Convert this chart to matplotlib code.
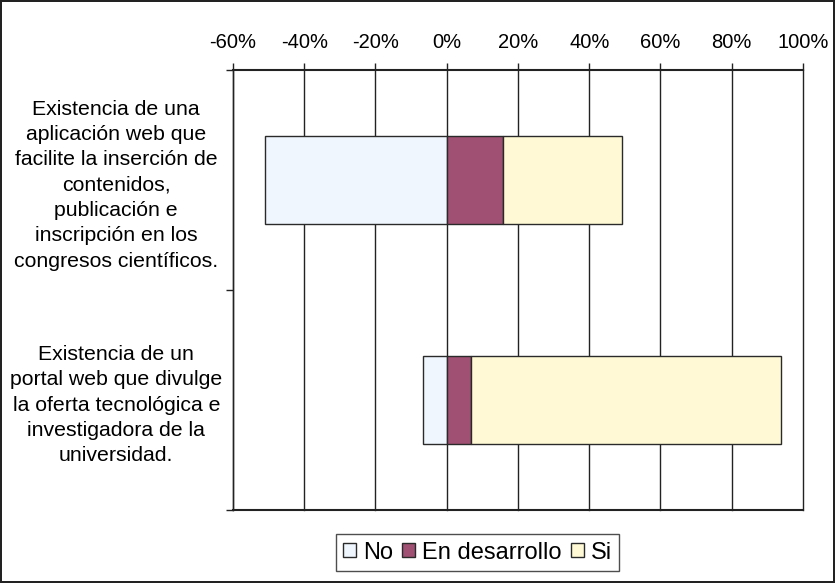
import numpy as np
import matplotlib
matplotlib.use('Agg')
from matplotlib import pyplot as plt

plt.rcParams['font.family'] = ['Liberation Sans', 'DejaVu Sans']
plt.rcParams['axes.unicode_minus'] = False

categories = [
  'Existencia de una\naplicación web que\nfacilite la inserción de\ncontenidos,\npublicación e\ninscripción en los\ncongresos científicos.',
  'Existencia de un\nportal web que divulge\nla oferta tecnológica e\ninvestigadora de la\nuniversidad.',
]
no_vals = [51.1, 6.6]
desarrollo_vals = [15.9, 6.9]
si_vals = [33.3, 87.0]
series_names = ['No', 'En desarrollo', 'Si']
x_ticks = [-60, -40, -20, 0, 20, 40, 60, 80, 100]
x_ticklabels = ['-60%', '-40%', '-20%', '0%', '20%', '40%', '60%', '80%', '100%']

colors = ['#EFF6FE', '#A05073', '#FFFAD5']

fig = plt.figure(figsize=(8.35, 5.83), dpi=100)
fig.patch.set_edgecolor('#222222')
fig.patch.set_linewidth(1.5)
ax = fig.add_axes([0.279, 0.1252, 0.6826, 0.7548])

y = np.arange(len(categories))
h = 0.4
no = -np.array(no_vals)
dev = np.array(desarrollo_vals)
si = np.array(si_vals)
ax.barh(y, no, height=h, color=colors[0], edgecolor='#2a2a2a', lw=1, label=series_names[0], zorder=3)
ax.barh(y, dev, height=h, color=colors[1], edgecolor='#2a2a2a', lw=1, label=series_names[1], zorder=3)
ax.barh(y, si, left=dev, height=h, color=colors[2], edgecolor='#2a2a2a', lw=1, label=series_names[2], zorder=3)

ax.set_xlim(-60, 100)
ax.set_ylim(1.5, -0.5)
ax.xaxis.tick_top()
ax.set_xticks(x_ticks)
ax.set_xticklabels(x_ticklabels, fontsize=14.5)
ax.tick_params(axis='x', direction='out', length=5, width=1, pad=8, color='#222222')
ax.grid(axis='x', color='#222222', lw=1, zorder=0)
for gl in ax.get_xgridlines():
  gl.set_clip_on(False)

ax.set_yticks([-0.5, 0.5, 1.5])
ax.set_yticklabels([])
ax.set_yticks(y, minor=True)
ax.set_yticklabels(categories, minor=True, fontsize=15.3, ha='center',
                   linespacing=1.42)
ax.tick_params(axis='y', which='major', direction='out', length=5, width=1, color='#222222')
ax.tick_params(axis='y', which='minor', length=0, pad=84)

ax.spines['right'].set_visible(False)
for s in ['top', 'bottom']:
  ax.spines[s].set_linewidth(1.5)
  ax.spines[s].set_color('#222222')
ax.spines['left'].set_linewidth(1)
ax.spines['left'].set_color('#222222')

leg = ax.legend(loc='center', bbox_to_anchor=(0.429, -0.0966), ncol=3, fontsize=17,
                frameon=True, fancybox=False, edgecolor='#222222',
                handlelength=0.55, handleheight=0.55, handletextpad=0.3,
                columnspacing=0.4, borderpad=0.3, borderaxespad=0)
leg.get_frame().set_linewidth(1)

plt.savefig('out.png', dpi=100)
